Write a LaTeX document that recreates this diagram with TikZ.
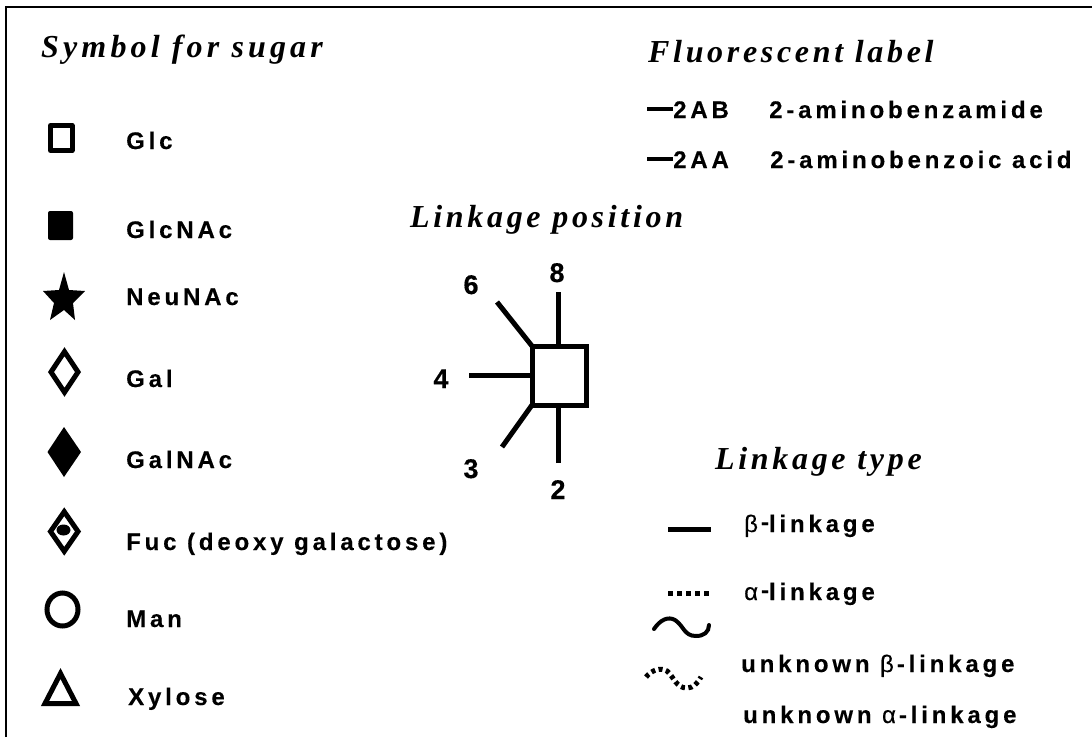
\documentclass[tikz,border=0pt]{standalone}
\usepackage{fontspec}
\usetikzlibrary{shapes.geometric}
\newfontfamily\lblfont[LetterSpace=16,FakeBold=0.25]{Liberation Sans Bold}
\newfontfamily\ttlfont[LetterSpace=13]{Liberation Serif Bold Italic}
\newfontfamily\ttlfontb[LetterSpace=11.5]{Liberation Serif Bold Italic}
\newfontfamily\numfont[FakeBold=0.4]{Liberation Sans Bold}
\newfontfamily\grkfont[FakeBold=0.25]{Liberation Sans}
\newcommand{\gk}[1]{{\grkfont #1}}
\newcommand{\rdash}{\hspace{3pt}\raisebox{2pt}{-}}
\tikzset{
  lbl/.style={anchor=base west,inner sep=0pt,font=\fontsize{24}{28}\lblfont},
  ttl/.style={anchor=base west,inner sep=0pt,font=\fontsize{32}{36}\ttlfont},
  ttlb/.style={anchor=base west,inner sep=0pt,font=\fontsize{32}{36}\ttlfontb},
  num/.style={anchor=base,inner sep=0pt,font=\fontsize{27}{30}\numfont},
  sym/.style={line width=5pt,black},
  link/.style={line width=5pt,black},
}
\begin{document}
\begin{tikzpicture}[x=1pt,y=-1pt]
\useasboundingbox (0,0) rectangle (1092,737);
% frame
\draw[line width=2pt] (5.5,737) -- (5.5,7) -- (1092,7);
% titles
\node[ttl] (t1) at (41,57) {Symbol for sugar};
\node[ttlb] (t2) at (648,62) {Fluorescent label};
\node[ttlb] (t3) at (410,227) {Linkage position};
\node[ttlb] (t4) at (715,469) {Linkage type};
% sugar symbols
\draw[sym,line join=round] (50.5,125.5) rectangle (72,150.5);
\fill[rounded corners=2pt] (48,211) rectangle (73,240);
\fill (64,272) -- (69,290) -- (85,291) -- (73,303) -- (75,320) -- (64,310) -- (50,320) -- (54,303) -- (43,291) -- (59,290) -- cycle;
\draw[sym] (64.5,351.7) -- (78,372) -- (64.5,392.3) -- (51,372) -- cycle;
\fill (64,427) -- (81,452) -- (64,477) -- (47.5,452) -- cycle;
\draw[sym] (64.25,511.7) -- (78,531.5) -- (64.25,551.3) -- (50.5,531.5) -- cycle;
\fill (63.5,530) ellipse [x radius=7,y radius=5.5];
\draw[sym] (62.5,609.5) ellipse [x radius=15.5,y radius=16.5];
\draw[sym] (60.5,673.5) -- (76,703.5) -- (45,703.5) -- cycle;
% sugar labels
\node[lbl] (glc) at (126,149) {Glc};
\node[lbl] (glcnac) at (126,238) {GlcNAc};
\node[lbl] (neunac) at (126,305) {NeuNAc};
\node[lbl] (gal) at (126,387) {Gal};
\node[lbl] (galnac) at (126,468) {GalNAc};
\node[lbl] (fuc) at (126,550) {Fuc (deoxy galactose)};
\node[lbl] (man) at (126,627) {Man};
\node[lbl] (xyl) at (128,705) {Xylose};
% fluorescent
\node[lbl] (ab) at (673,118) {2AB};
\node[lbl] (abn) at (769,118) {2-aminobenzamide};
\node[lbl] (aa) at (673,168) {2AA};
\node[lbl] (aan) at (770,168) {2-aminobenzoic acid};
\coordinate (abs) at (647,109);
\coordinate (aas) at (647,159);
\draw[line width=4pt] (abs) -- (ab.base west |- abs);
\draw[line width=4pt] (aas) -- (aa.base west |- aas);
% linkage position
\node[draw,line width=5pt,outer sep=0pt,minimum width=54pt,minimum height=59pt,inner sep=0pt,anchor=north west] (box) at (532,346) {};
\coordinate (c8) at (558,292);
\coordinate (c2) at (558,463);
\coordinate (c4) at (469,375);
\coordinate (c6) at (497,302);
\coordinate (c3) at (502,447);
\draw[link] (c8) -- (c8 |- box.north);
\draw[link] (c2) -- (c2 |- box.south);
\draw[link] (c4) -- (box.west |- c4);
\draw[link] (c6) -- (box.north west);
\draw[link] (c3) -- (box.south west);
\node[num] (n8) at (557,282) {8};
\node[num] (n6) at (471,294) {6};
\node[num] (n4) at (441,388) {4};
\node[num] (n3) at (471,478) {3};
\node[num] (n2) at (558,499) {2};
% linkage type
\coordinate (la) at (668,529); \coordinate (lb) at (711,529);
\coordinate (da) at (668,593); \coordinate (db) at (710,593);
\draw[link] (la) -- (lb);
\draw[link,dash pattern=on 5pt off 4pt] (da) -- (db);
\draw[line width=4pt,line cap=round] (654,629) .. controls (660,620) and (668,616) .. (675,620) .. controls (684,626) and (684,636) .. (696,636) .. controls (704,636) and (709,632) .. (709,625);
\draw[line width=5pt,dash pattern=on 4pt off 3.5pt] (646,677) .. controls (652,670) and (660,667) .. (667,671) .. controls (674,677) and (676,688) .. (687,688) .. controls (693,688) and (698,683) .. (701,677);
\node[lbl] (bl) at (744,532) {\gk{β}\rdash linkage};
\node[lbl] (al) at (744,600) {\gk{α}\rdash linkage};
\node[lbl] (ub) at (741,672) {unknown \gk{β}\hspace{3pt}-linkage};
\node[lbl] (ua) at (743,723) {unknown \gk{α}\hspace{3pt}-linkage};
\end{tikzpicture}
\end{document}
